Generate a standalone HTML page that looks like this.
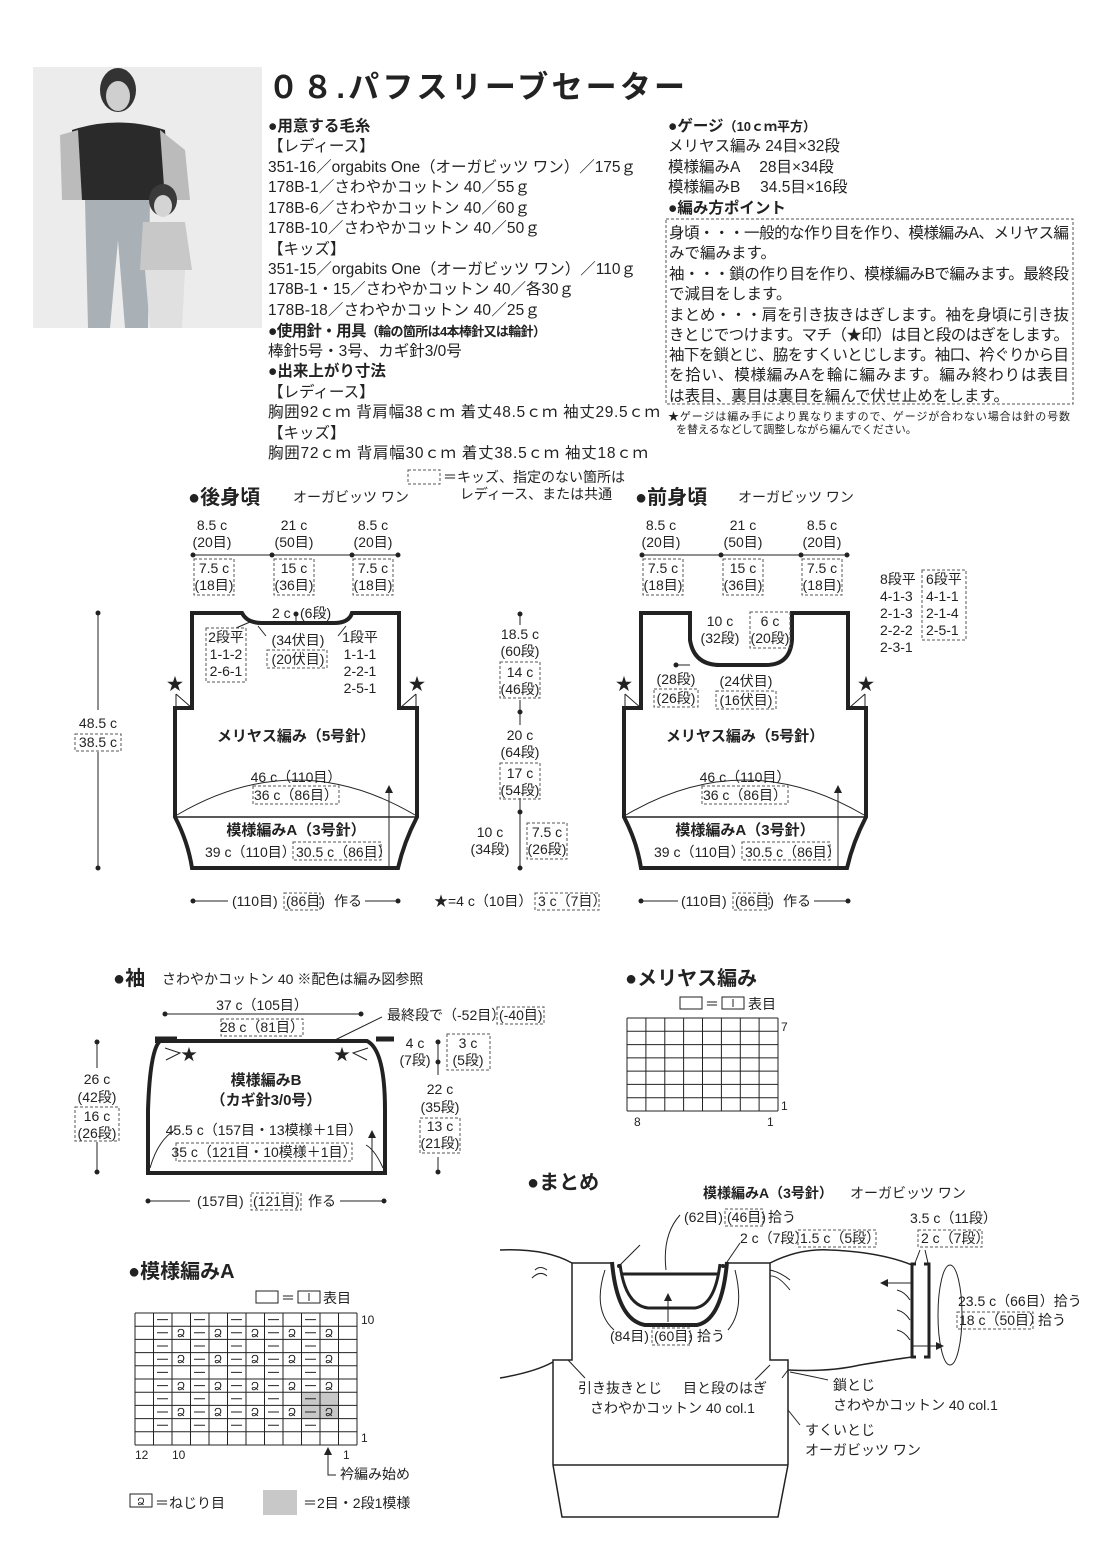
<!DOCTYPE html>
<html><head><meta charset="utf-8"><style>
html,body{margin:0;padding:0;background:#fff}
svg{display:block}
text{font-family:"Liberation Sans","Noto Sans CJK JP",sans-serif;fill:#222}
.h{font-size:15.5px}
.b{font-weight:bold}
.s{font-size:14px}
.m{text-anchor:middle}
.d{fill:none;stroke:#555;stroke-width:1;stroke-dasharray:3,2}
.o{fill:none;stroke:#222;stroke-width:4;stroke-linejoin:miter}
.t{fill:none;stroke:#222;stroke-width:1}
</style></head><body>
<svg width="1100" height="1555" viewBox="0 0 1100 1555" xmlns="http://www.w3.org/2000/svg">
<defs><marker id="ar" markerWidth="8" markerHeight="8" refX="6" refY="4" orient="auto"><path d="M0,0 L8,4 L0,8 Z" fill="#222"/></marker></defs>
<!-- photo -->
<rect x="33" y="67" width="229" height="261" fill="#ececec"/>
<ellipse cx="118" cy="90" rx="18" ry="22" fill="#333"/>
<ellipse cx="118" cy="96" rx="12" ry="15" fill="#cfcfcf"/>
<path d="M72,130 Q118,115 165,130 L170,200 L75,200 Z" fill="#2a2a2a"/>
<path d="M60,135 L78,130 L82,200 L62,200 Z" fill="#bbb"/>
<path d="M160,130 L185,150 L190,200 L165,200 Z" fill="#bbb"/>
<path d="M85,200 L150,200 L148,328 L125,328 L118,240 L110,328 L88,328 Z" fill="#a9b0b6"/>
<ellipse cx="163" cy="200" rx="14" ry="16" fill="#3a3a3a"/>
<ellipse cx="163" cy="206" rx="9" ry="11" fill="#d4d4d4"/>
<path d="M143,222 L185,222 L192,270 L140,270 Z" fill="#c8c8c8"/>
<path d="M145,270 L185,270 L182,328 L150,328 Z" fill="#e0e0e0"/>
<!-- title -->
<text x="268" y="98" font-size="31" class="b" textLength="417">０８.パフスリーブセーター</text>
<!-- left column -->
<g class="h">
<text x="268" y="131" class="b">●用意する毛糸</text>
<text x="268" y="151">【レディース】</text>
<text x="268" y="172" textLength="368">351-16／orgabits One（オーガビッツ ワン）／175ｇ</text>
<text x="268" y="192" textLength="262">178B-1／さわやかコットン 40／55ｇ</text>
<text x="268" y="213" textLength="262">178B-6／さわやかコットン 40／60ｇ</text>
<text x="268" y="233" textLength="272">178B-10／さわやかコットン 40／50ｇ</text>
<text x="268" y="254">【キッズ】</text>
<text x="268" y="274" textLength="368">351-15／orgabits One（オーガビッツ ワン）／110ｇ</text>
<text x="268" y="294" textLength="306">178B-1・15／さわやかコットン 40／各30ｇ</text>
<text x="268" y="315" textLength="272">178B-18／さわやかコットン 40／25ｇ</text>
<text x="268" y="336" class="b" textLength="278">●使用針・用具<tspan font-size="13">（輪の箇所は4本棒針又は輪針）</tspan></text>
<text x="268" y="356">棒針5号・3号、カギ針3/0号</text>
<text x="268" y="376" class="b">●出来上がり寸法</text>
<text x="268" y="397">【レディース】</text>
<text x="268" y="417" textLength="392">胸囲92ｃｍ 背肩幅38ｃｍ 着丈48.5ｃｍ 袖丈29.5ｃｍ</text>
<text x="268" y="438">【キッズ】</text>
<text x="268" y="458" textLength="380">胸囲72ｃｍ 背肩幅30ｃｍ 着丈38.5ｃｍ 袖丈18ｃｍ</text>
</g>
<!-- right column -->
<g class="h">
<text x="668" y="131" class="b">●ゲージ<tspan font-size="13">（10ｃｍ平方）</tspan></text>
<text x="668" y="151">メリヤス編み 24目×32段</text>
<text x="668" y="172">模様編みA　 28目×34段</text>
<text x="668" y="192">模様編みB　 34.5目×16段</text>
<text x="668" y="213" class="b">●編み方ポイント</text>
<rect x="666" y="219" width="407" height="185" class="d"/>
<text x="669" y="238" textLength="400">身頃・・・一般的な作り目を作り、模様編みA、メリヤス編</text>
<text x="669" y="258">みで編みます。</text>
<text x="669" y="279" textLength="400">袖・・・鎖の作り目を作り、模様編みBで編みます。最終段</text>
<text x="669" y="299">で減目をします。</text>
<text x="669" y="320" textLength="400">まとめ・・・肩を引き抜きはぎします。袖を身頃に引き抜</text>
<text x="669" y="340" textLength="400">きとじでつけます。マチ（★印）は目と段のはぎをします。</text>
<text x="669" y="360" textLength="400">袖下を鎖とじ、脇をすくいとじします。袖口、衿ぐりから目</text>
<text x="669" y="380" textLength="400">を拾い、模様編みAを輪に編みます。編み終わりは表目</text>
<text x="669" y="401" textLength="340">は表目、裏目は裏目を編んで伏せ止めをします。</text>
</g>
<text x="668" y="420" font-size="11" textLength="402">★ゲージは編み手により異なりますので、ゲージが合わない場合は針の号数</text>
<text x="676" y="433" font-size="11">を替えるなどして調整しながら編んでください。</text>
<!-- legend -->
<rect x="408" y="470" width="32" height="14" class="d"/>
<text x="443" y="482" class="s">＝キッズ、指定のない箇所は</text>
<text x="536" y="499" class="s m">レディース、または共通</text>
<!-- BACK -->
<text x="188" y="504" font-size="20" class="b">●後身頃</text>
<text x="293" y="502" class="s">オーガビッツ ワン</text>
<g id="dims">
<text x="212" y="530" class="s m">8.5 c</text><text x="212" y="547" class="s m">(20目)</text>
<text x="294" y="530" class="s m">21 c</text><text x="294" y="547" class="s m">(50目)</text>
<text x="373" y="530" class="s m">8.5 c</text><text x="373" y="547" class="s m">(20目)</text>
<line x1="193" y1="555" x2="398" y2="555" class="t"/>
<circle cx="193" cy="555" r="2.5" fill="#222"/><circle cx="272" cy="555" r="2.5" fill="#222"/><circle cx="352" cy="555" r="2.5" fill="#222"/><circle cx="398" cy="555" r="2.5" fill="#222"/>
<rect x="194" y="559" width="40" height="36" class="d"/><rect x="274" y="559" width="40" height="36" class="d"/><rect x="353" y="559" width="40" height="36" class="d"/>
<text x="214" y="573" class="s m">7.5 c</text><text x="214" y="590" class="s m">(18目)</text>
<text x="294" y="573" class="s m">15 c</text><text x="294" y="590" class="s m">(36目)</text>
<text x="373" y="573" class="s m">7.5 c</text><text x="373" y="590" class="s m">(18目)</text>
</g>
<path class="o" d="M192,613 L242,613 Q247,623 262,623 L334,623 Q349,623 352,613 L399,613 L399,708 L417,708 L417,817 Q404,842 398,868 L192,868 Q188,842 175,817 L175,708 L192,708 Z"/>
<line x1="175" y1="817" x2="417" y2="817" stroke="#222" stroke-width="1.5"/>
<path class="t" d="M177,815 Q296,745 415,815"/>
<line x1="389" y1="866" x2="389" y2="787" class="t" marker-end="url(#ar)"/>
<path class="t" d="M176,694 L176,708 M176,694 L192,708 M416,694 L416,708 M416,694 L400,708"/>
<text x="175" y="690" font-size="17" class="m">★</text><text x="417" y="690" font-size="17" class="m">★</text>
<text x="272" y="618" class="s">2 c</text><circle cx="296" cy="614" r="2.5" fill="#222"/><line x1="296" y1="614" x2="296" y2="623" class="t"/><text x="300" y="618" class="s">(6段)</text>
<path class="t" d="M236,628 L250,622 M266,636 L258,626 M338,636 L346,626"/>
<rect x="206" y="628" width="40" height="54" class="d"/>
<text x="226" y="642" class="s m">2段平</text><text x="226" y="659" class="s m">1-1-2</text><text x="226" y="676" class="s m">2-6-1</text>
<text x="298" y="645" class="s m">(34伏目)</text><rect x="267" y="650" width="60" height="18" class="d"/><text x="298" y="664" class="s m">(20伏目)</text>
<text x="360" y="642" class="s m">1段平</text><text x="360" y="659" class="s m">1-1-1</text><text x="360" y="676" class="s m">2-2-1</text><text x="360" y="693" class="s m">2-5-1</text>
<text x="296" y="741" font-size="15" class="b m">メリヤス編み（5号針）</text>
<text x="296" y="782" class="s m">46 c（110目）</text><rect x="253" y="786" width="86" height="18" class="d"/><text x="296" y="800" class="s m">36 c（86目）</text>
<text x="296" y="835" font-size="15" class="b m">模様編みA（3号針）</text>
<text x="205" y="857" class="s">39 c（110目）</text><rect x="293" y="842" width="88" height="18" class="d"/><text x="296" y="857" class="s">30.5 c（86目）</text>
<!-- left height -->
<line x1="98" y1="613" x2="98" y2="710" class="t"/><line x1="98" y1="752" x2="98" y2="868" class="t"/>
<circle cx="98" cy="613" r="2.5" fill="#222"/><circle cx="98" cy="868" r="2.5" fill="#222"/>
<text x="98" y="728" class="s m">48.5 c</text><rect x="75" y="734" width="46" height="17" class="d"/><text x="98" y="747" class="s m">38.5 c</text>
<!-- middle -->
<line x1="520" y1="614" x2="520" y2="625" class="t"/><line x1="520" y1="700" x2="520" y2="725" class="t"/><line x1="520" y1="798" x2="520" y2="868" class="t"/>
<circle cx="520" cy="614" r="2.5" fill="#222"/><circle cx="520" cy="712" r="2.5" fill="#222"/><circle cx="520" cy="812" r="2.5" fill="#222"/><circle cx="520" cy="868" r="2.5" fill="#222"/>
<text x="520" y="639" class="s m">18.5 c</text><text x="520" y="656" class="s m">(60段)</text>
<rect x="500" y="662" width="40" height="36" class="d"/><text x="520" y="677" class="s m">14 c</text><text x="520" y="694" class="s m">(46段)</text>
<text x="520" y="740" class="s m">20 c</text><text x="520" y="757" class="s m">(64段)</text>
<rect x="500" y="763" width="40" height="36" class="d"/><text x="520" y="778" class="s m">17 c</text><text x="520" y="795" class="s m">(54段)</text>
<text x="490" y="837" class="s m">10 c</text><text x="490" y="854" class="s m">(34段)</text>
<rect x="527" y="823" width="40" height="36" class="d"/><text x="547" y="837" class="s m">7.5 c</text><text x="547" y="854" class="s m">(26段)</text>
<!-- bottom row -->
<line x1="193" y1="901" x2="228" y2="901" class="t"/><line x1="365" y1="901" x2="398" y2="901" class="t"/>
<circle cx="193" cy="901" r="2.5" fill="#222"/><circle cx="398" cy="901" r="2.5" fill="#222"/>
<text x="232" y="906" class="s">(110目)</text><rect x="284" y="893" width="36" height="17" class="d"/><text x="286" y="906" class="s">(86目)</text><text x="334" y="906" class="s">作る</text>
<text x="434" y="906" class="s">★=4 c（10目）</text><rect x="535" y="893" width="64" height="17" class="d"/><text x="538" y="906" class="s">3 c（7目）</text>
<line x1="641" y1="901" x2="678" y2="901" class="t"/><line x1="814" y1="901" x2="848" y2="901" class="t"/>
<circle cx="641" cy="901" r="2.5" fill="#222"/><circle cx="848" cy="901" r="2.5" fill="#222"/>
<text x="681" y="906" class="s">(110目)</text><rect x="733" y="893" width="36" height="17" class="d"/><text x="735" y="906" class="s">(86目)</text><text x="783" y="906" class="s">作る</text>
<!-- FRONT -->
<text x="635" y="504" font-size="20" class="b">●前身頃</text>
<text x="738" y="502" class="s">オーガビッツ ワン</text>
<use href="#dims" x="449" y="0"/>
<path class="o" d="M641,613 L690,613 L690,640 Q694,665 720,665 L766,665 Q790,665 792,640 L792,613 L848,613 L848,708 L866,708 L866,817 Q853,842 847,868 L641,868 Q637,842 624,817 L624,708 L641,708 Z"/>
<line x1="624" y1="817" x2="866" y2="817" stroke="#222" stroke-width="1.5"/>
<path class="t" d="M626,815 Q745,745 864,815"/>
<line x1="838" y1="866" x2="838" y2="787" class="t" marker-end="url(#ar)"/>
<path class="t" d="M625,694 L625,708 M625,694 L641,708 M865,694 L865,708 M865,694 L849,708"/>
<text x="624" y="690" font-size="17" class="m">★</text><text x="866" y="690" font-size="17" class="m">★</text>
<text x="720" y="626" class="s m">10 c</text><text x="720" y="643" class="s m">(32段)</text>
<rect x="750" y="612" width="40" height="36" class="d"/><text x="770" y="626" class="s m">6 c</text><text x="770" y="643" class="s m">(20段)</text>
<circle cx="676" cy="665" r="2.5" fill="#222"/><line x1="676" y1="665" x2="690" y2="665" class="t"/>
<text x="676" y="684" class="s m">(28段)</text><rect x="654" y="689" width="44" height="18" class="d"/><text x="676" y="703" class="s m">(26段)</text>
<text x="746" y="686" class="s m">(24伏目)</text><rect x="716" y="691" width="60" height="18" class="d"/><text x="746" y="705" class="s m">(16伏目)</text>
<text x="880" y="584" class="s">8段平</text><text x="880" y="601" class="s">4-1-3</text><text x="880" y="618" class="s">2-1-3</text><text x="880" y="635" class="s">2-2-2</text><text x="880" y="652" class="s">2-3-1</text>
<rect x="922" y="570" width="44" height="70" class="d"/>
<text x="926" y="584" class="s">6段平</text><text x="926" y="601" class="s">4-1-1</text><text x="926" y="618" class="s">2-1-4</text><text x="926" y="635" class="s">2-5-1</text>
<text x="745" y="741" font-size="15" class="b m">メリヤス編み（5号針）</text>
<text x="745" y="782" class="s m">46 c（110目）</text><rect x="702" y="786" width="86" height="18" class="d"/><text x="745" y="800" class="s m">36 c（86目）</text>
<text x="745" y="835" font-size="15" class="b m">模様編みA（3号針）</text>
<text x="654" y="857" class="s">39 c（110目）</text><rect x="742" y="842" width="88" height="18" class="d"/><text x="745" y="857" class="s">30.5 c（86目）</text>
<!-- SLEEVE -->
<text x="113" y="985" font-size="20" class="b">●袖</text>
<text x="162" y="984" class="s">さわやかコットン 40 ※配色は編み図参照</text>
<text x="262" y="1010" class="s m">37 c（105目）</text>
<line x1="165" y1="1014" x2="361" y2="1014" class="t"/><circle cx="165" cy="1014" r="2.5" fill="#222"/><circle cx="361" cy="1014" r="2.5" fill="#222"/>
<rect x="221" y="1019" width="82" height="17" class="d"/><text x="262" y="1032" class="s m">28 c（81目）</text>
<path class="o" d="M155,1041 L367,1041 Q385,1050 385,1110 L385,1173 L148,1173 L148,1110 Q150,1050 160,1041"/>
<line x1="155" y1="1039" x2="177" y2="1039" stroke="#222" stroke-width="5"/><line x1="376" y1="1039" x2="394" y2="1039" stroke="#222" stroke-width="5"/>
<path class="t" d="M165,1048 L180,1053 L166,1060 M368,1048 L353,1053 L367,1060 M335,1040 L382,1017 M150,1168 Q158,1140 175,1130 M383,1168 Q375,1150 366,1145"/>
<text x="189" y="1060" font-size="16" class="m">★</text><text x="342" y="1060" font-size="16" class="m">★</text>
<text x="387" y="1020" class="s">最終段で（-52目）</text><rect x="497" y="1007" width="47" height="17" class="d"/><text x="499" y="1020" class="s">(-40目)</text>
<text x="415" y="1048" class="s m">4 c</text><text x="415" y="1065" class="s m">(7段)</text>
<line x1="438" y1="1042" x2="438" y2="1075" class="t"/><circle cx="438" cy="1042" r="2.5" fill="#222"/><circle cx="438" cy="1062" r="2.5" fill="#222"/>
<rect x="447" y="1034" width="43" height="36" class="d"/><text x="468" y="1048" class="s m">3 c</text><text x="468" y="1065" class="s m">(5段)</text>
<text x="440" y="1094" class="s m">22 c</text><text x="440" y="1112" class="s m">(35段)</text>
<rect x="420" y="1118" width="40" height="35" class="d"/><text x="440" y="1131" class="s m">13 c</text><text x="440" y="1148" class="s m">(21段)</text>
<line x1="438" y1="1157" x2="438" y2="1172" class="t"/><circle cx="438" cy="1172" r="2.5" fill="#222"/>
<line x1="97" y1="1042" x2="97" y2="1068" class="t"/><line x1="97" y1="1142" x2="97" y2="1172" class="t"/>
<circle cx="97" cy="1042" r="2.5" fill="#222"/><circle cx="97" cy="1172" r="2.5" fill="#222"/>
<text x="97" y="1084" class="s m">26 c</text><text x="97" y="1102" class="s m">(42段)</text>
<rect x="75" y="1107" width="44" height="34" class="d"/><text x="97" y="1121" class="s m">16 c</text><text x="97" y="1138" class="s m">(26段)</text>
<text x="266" y="1085" font-size="15" class="b m">模様編みB</text><text x="266" y="1105" font-size="15" class="b m">（カギ針3/0号）</text>
<text x="264" y="1135" class="s m">45.5 c（157目・13模様＋1目）</text>
<rect x="176" y="1143" width="176" height="18" class="d"/><text x="264" y="1157" class="s m">35 c（121目・10模様＋1目）</text>
<line x1="372" y1="1172" x2="372" y2="1132" class="t" marker-end="url(#ar)"/>
<line x1="148" y1="1201" x2="190" y2="1201" class="t"/><line x1="340" y1="1201" x2="384" y2="1201" class="t"/>
<circle cx="148" cy="1201" r="2.5" fill="#222"/><circle cx="384" cy="1201" r="2.5" fill="#222"/>
<text x="197" y="1206" class="s">(157目)</text><rect x="251" y="1193" width="50" height="17" class="d"/><text x="253" y="1206" class="s">(121目)</text><text x="308" y="1206" class="s">作る</text>
<!-- MERIYASU chart -->
<text x="625" y="985" font-size="20" class="b">●メリヤス編み</text>
<rect x="680" y="997" width="22" height="12" class="t"/><text x="705" y="1009" class="s">＝</text>
<rect x="722" y="997" width="22" height="12" class="t"/><line x1="733" y1="999" x2="733" y2="1007" class="t"/><text x="748" y="1009" class="s">表目</text>
<g stroke="#222" stroke-width="1">
<path d="M627,1018 H778 M627,1031.3 H778 M627,1044.6 H778 M627,1057.9 H778 M627,1071.1 H778 M627,1084.4 H778 M627,1097.7 H778 M627,1111 H778"/>
<path d="M627,1018 V1111 M645.9,1018 V1111 M664.8,1018 V1111 M683.6,1018 V1111 M702.5,1018 V1111 M721.4,1018 V1111 M740.3,1018 V1111 M759.1,1018 V1111 M778,1018 V1111"/>
</g>
<text x="781" y="1031" font-size="12">7</text><text x="781" y="1110" font-size="12">1</text>
<text x="634" y="1126" font-size="12">8</text><text x="767" y="1126" font-size="12">1</text>
<!-- PATTERN A chart -->
<text x="128" y="1278" font-size="20" class="b">●模様編みA</text>
<rect x="256" y="1291" width="22" height="12" class="t"/><text x="281" y="1303" class="s">＝</text>
<rect x="298" y="1291" width="22" height="12" class="t"/><line x1="309" y1="1293" x2="309" y2="1301" class="t"/><text x="323" y="1303" class="s">表目</text>
<rect x="302" y="1392.2" width="37" height="26.4" fill="#c8c8c8"/>
<g stroke="#222" stroke-width="1">
<path d="M135,1313 H357 M135,1326.2 H357 M135,1339.4 H357 M135,1352.6 H357 M135,1365.8 H357 M135,1379 H357 M135,1392.2 H357 M135,1405.4 H357 M135,1418.6 H357 M135,1431.8 H357 M135,1445 H357"/>
<path d="M135,1313 V1445 M153.5,1313 V1445 M172,1313 V1445 M190.5,1313 V1445 M209,1313 V1445 M227.5,1313 V1445 M246,1313 V1445 M264.5,1313 V1445 M283,1313 V1445 M301.5,1313 V1445 M320,1313 V1445 M338.5,1313 V1445 M357,1313 V1445"/>
<path d="M157,1319.6 h11 M194,1319.6 h11 M231,1319.6 h11 M268,1319.6 h11 M305,1319.6 h11
M157,1332.8 h11 M194,1332.8 h11 M231,1332.8 h11 M268,1332.8 h11 M305,1332.8 h11
M157,1346 h11 M194,1346 h11 M231,1346 h11 M268,1346 h11 M305,1346 h11
M157,1359.2 h11 M194,1359.2 h11 M231,1359.2 h11 M268,1359.2 h11 M305,1359.2 h11
M157,1372.4 h11 M194,1372.4 h11 M231,1372.4 h11 M268,1372.4 h11 M305,1372.4 h11
M157,1385.6 h11 M194,1385.6 h11 M231,1385.6 h11 M268,1385.6 h11 M305,1385.6 h11
M157,1398.8 h11 M194,1398.8 h11 M231,1398.8 h11 M268,1398.8 h11 M305,1398.8 h11
M157,1412 h11 M194,1412 h11 M231,1412 h11 M268,1412 h11 M305,1412 h11
M157,1425.2 h11 M194,1425.2 h11 M231,1425.2 h11 M268,1425.2 h11 M305,1425.2 h11"/>
</g>
<g font-size="11" class="m">
<text x="181" y="1337">Ձ</text><text x="218" y="1337">Ձ</text><text x="255" y="1337">Ձ</text><text x="292" y="1337">Ձ</text><text x="329" y="1337">Ձ</text>
<text x="181" y="1363">Ձ</text><text x="218" y="1363">Ձ</text><text x="255" y="1363">Ձ</text><text x="292" y="1363">Ձ</text><text x="329" y="1363">Ձ</text>
<text x="181" y="1390">Ձ</text><text x="218" y="1390">Ձ</text><text x="255" y="1390">Ձ</text><text x="292" y="1390">Ձ</text><text x="329" y="1390">Ձ</text>
<text x="181" y="1416">Ձ</text><text x="218" y="1416">Ձ</text><text x="255" y="1416">Ձ</text><text x="292" y="1416">Ձ</text><text x="329" y="1416">Ձ</text>
</g>
<text x="361" y="1324" font-size="12">10</text><text x="361" y="1442" font-size="12">1</text>
<text x="135" y="1459" font-size="12">12</text><text x="172" y="1459" font-size="12">10</text><text x="343" y="1459" font-size="12">1</text>
<line x1="328" y1="1475" x2="328" y2="1449" class="t" marker-end="url(#ar)"/>
<path class="t" d="M328,1462 V1475 H336"/>
<text x="340" y="1479" class="s">衿編み始め</text>
<rect x="130" y="1494" width="22" height="13" class="t"/><text x="141" y="1505" font-size="10" class="m">Ձ</text>
<text x="155" y="1508" class="s">＝ねじり目</text>
<rect x="263" y="1490" width="34" height="25" fill="#c8c8c8"/>
<text x="303" y="1508" class="s">＝2目・2段1模様</text>
<!-- MATOME -->
<text x="527" y="1189" font-size="20" class="b">●まとめ</text>
<text x="703" y="1198" class="s b">模様編みA（3号針）</text><text x="850" y="1198" class="s">オーガビッツ ワン</text>
<path fill="none" stroke="#222" stroke-width="1.5" d="M500,1250 Q545,1248 572,1263 M500,1378 Q535,1372 553,1362 M770,1263 Q800,1248 830,1250 Q880,1252 912,1265 M788,1370 Q830,1372 860,1365 Q890,1360 912,1357"/>
<path fill="none" stroke="#222" stroke-width="1.5" d="M572,1263 L612,1263 M727,1263 L770,1263 M572,1263 V1360 H553 V1465 M770,1263 V1360 H788 V1465 M553,1465 H788 M553,1465 L562,1517 H778 L788,1465"/>
<path fill="none" stroke="#222" stroke-width="4" d="M612,1262 Q617,1320 645,1325 L697,1325 Q722,1320 727,1262"/>
<path fill="none" stroke="#222" stroke-width="3" d="M620,1264 Q625,1305 648,1308 L695,1308 Q715,1305 720,1264 M622,1274 H718"/>
<path class="t" d="M547,1270 Q540,1265 535,1270 M547,1276 Q540,1270 532,1278 M770,1270 Q780,1272 790,1280 M770,1276 Q778,1275 790,1290 M605,1270 Q592,1310 614,1330 M735,1270 Q745,1310 728,1330"/>
<line x1="668" y1="1322" x2="668" y2="1295" class="t" marker-end="url(#ar)"/>
<path class="t" d="M666,1270 Q662,1235 680,1215 M620,1265 L640,1245 M725,1265 L740,1243 M915,1263 L920,1250 M928,1263 L925,1250"/>
<circle cx="619" cy="1266" r="2" fill="#222"/><circle cx="723" cy="1266" r="2" fill="#222"/>
<path fill="none" stroke="#222" stroke-width="3" d="M916,1264 H912 V1357 H916 M924,1264 H929 V1357 H924"/>
<line x1="912" y1="1283" x2="882" y2="1283" class="t" marker-end="url(#ar)"/>
<line x1="912" y1="1346" x2="942" y2="1346" class="t" marker-end="url(#ar)"/>
<path class="t" d="M897,1290 Q905,1292 910,1300 M897,1310 Q905,1312 910,1320 M897,1330 Q905,1332 910,1340"/>
<ellipse cx="950" cy="1315" rx="12" ry="50" class="t"/>
<text x="684" y="1222" class="s">(62目)</text><rect x="725" y="1209" width="38" height="17" class="d"/><text x="727" y="1222" class="s">(46目)</text><text x="768" y="1222" class="s">拾う</text>
<text x="740" y="1243" class="s">2 c（7段）</text><rect x="798" y="1230" width="78" height="17" class="d"/><text x="800" y="1243" class="s">1.5 c（5段）</text>
<text x="910" y="1223" class="s">3.5 c（11段）</text><rect x="918" y="1230" width="64" height="17" class="d"/><text x="921" y="1243" class="s">2 c（7段）</text>
<text x="958" y="1306" class="s">23.5 c（66目）拾う</text><rect x="957" y="1312" width="76" height="17" class="d"/><text x="959" y="1325" class="s">18 c（50目）</text><text x="1038" y="1325" class="s">拾う</text>
<text x="610" y="1341" class="s">(84目)</text><rect x="652" y="1328" width="38" height="17" class="d"/><text x="654" y="1341" class="s">(60目)</text><text x="697" y="1341" class="s">拾う</text>
<path class="t" d="M568,1360 L585,1378 M770,1365 L755,1380 M788,1370 L782,1378 M790,1372 Q820,1378 828,1380 M788,1410 L800,1425"/>
<text x="578" y="1393" class="s">引き抜きとじ</text><text x="683" y="1393" class="s">目と段のはぎ</text>
<text x="590" y="1413" class="s">さわやかコットン 40 col.1</text>
<text x="833" y="1390" class="s">鎖とじ</text><text x="833" y="1410" class="s">さわやかコットン 40 col.1</text>
<text x="805" y="1435" class="s">すくいとじ</text><text x="805" y="1455" class="s">オーガビッツ ワン</text>
</svg>
</body></html>
